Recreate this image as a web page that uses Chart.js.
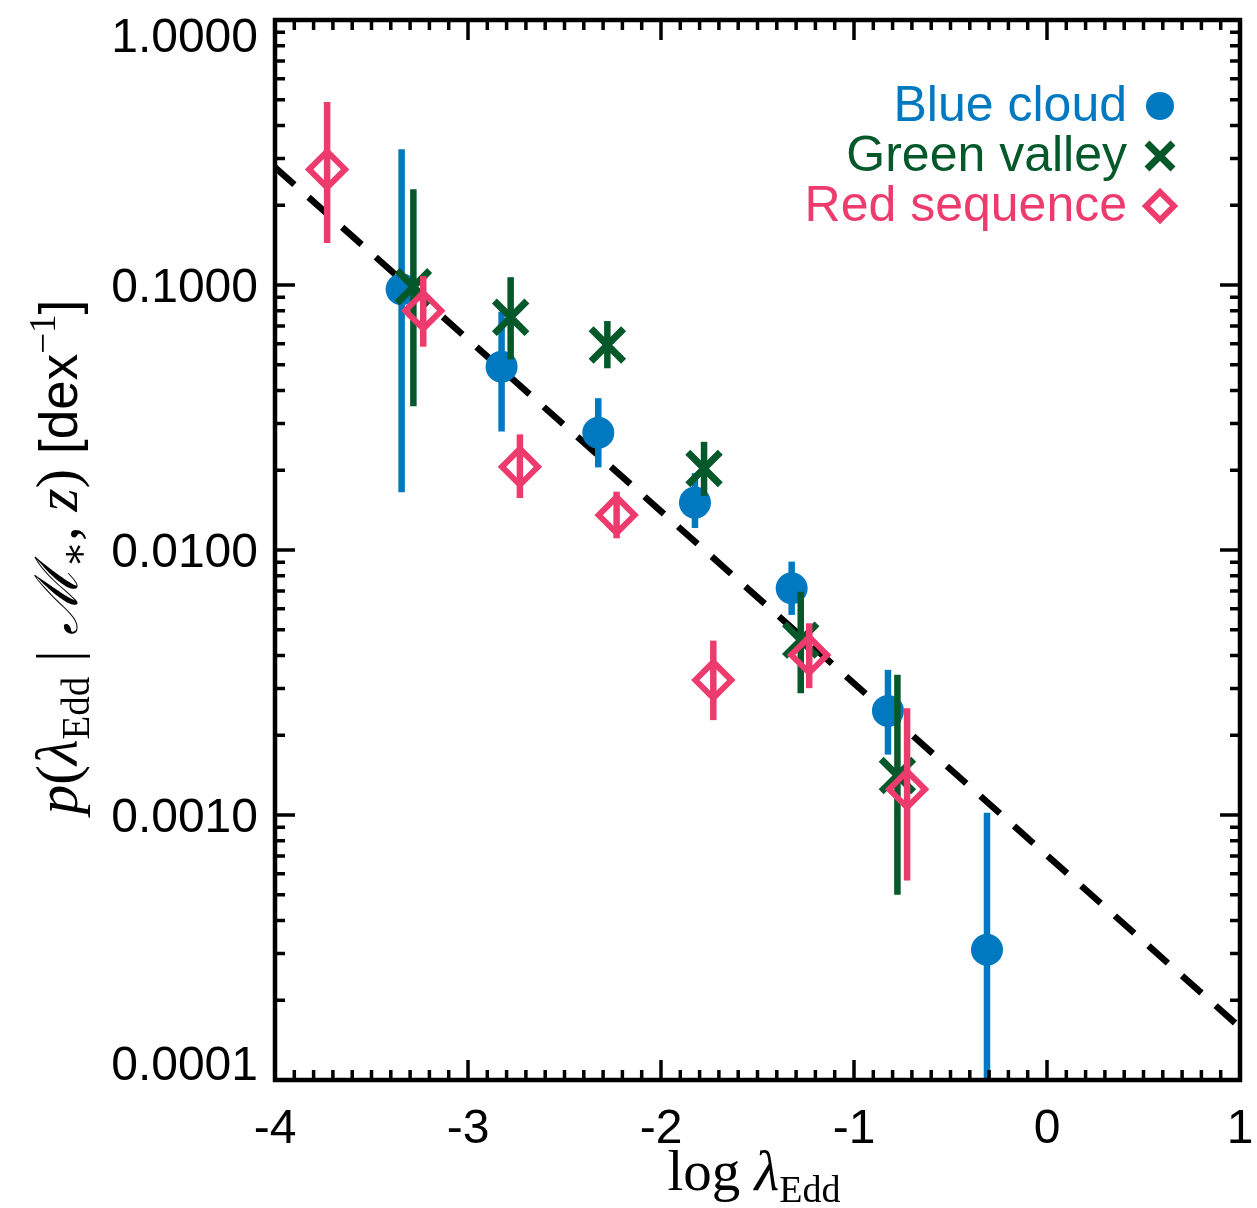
<!DOCTYPE html>
<html>
<head>
<meta charset="utf-8">
<script src="https://cdn.jsdelivr.net/npm/chart.js@4.4.1/dist/chart.umd.min.js"></script>
<style>
  html, body { margin: 0; padding: 0; background: #ffffff; }
  #wrap { width: 1257px; height: 1208px; }
</style>
</head>
<body>
<div id="wrap"><canvas id="c" width="1257" height="1208"></canvas></div>
<script>
// Axis ticks
const xTickValues = [-4, -3, -2, -1, 0, 1];
const xTickLabels = ['-4', '-3', '-2', '-1', '0', '1'];
const yTickValues = [1, 0.1, 0.01, 0.001, 0.0001];
const yTickLabels = ['1.0000', '0.1000', '0.0100', '0.0010', '0.0001'];

// Blue cloud
const blueX  = [-3.344, -2.826, -2.325, -1.824, -1.323, -0.824, -0.311];
const blueY  = [0.0964, 0.0492, 0.0277, 0.0151, 0.00717, 0.00247, 0.00031];
const blueHi = [0.325, 0.0793, 0.0374, 0.0195, 0.00904, 0.00353, 0.00102];
const blueLo = [0.0165, 0.0280, 0.0205, 0.0121, 0.00569, 0.00169, 0.00005];

// Green valley
const greenX  = [-3.283, -2.779, -2.278, -1.777, -1.276, -0.775];
const greenY  = [0.0985, 0.0755, 0.0594, 0.0203, 0.00457, 0.00141];
const greenHi = [0.23, 0.107, 0.0731, 0.0256, 0.00696, 0.00338];
const greenLo = [0.0349, 0.0524, 0.0485, 0.0160, 0.00288, 0.00050];

// Red sequence
const redX  = [-3.73, -3.232, -2.731, -2.230, -1.729, -1.232, -0.725];
const redY  = [0.273, 0.080, 0.0206, 0.01355, 0.00323, 0.00402, 0.00125];
const redHi = [0.49, 0.108, 0.0273, 0.0166, 0.00455, 0.00529, 0.00253];
const redLo = [0.144, 0.0585, 0.0157, 0.01107, 0.00228, 0.00301, 0.000566];

// Power-law relation (dashed)
const fitX = [-4, 1];
const fitY = [0.278, 0.000158];

const BLUE = '#0079c1';
const GREEN = '#04582a';
const RED = '#ee3b6d';
const SANS = '"Liberation Sans", Arial, Helvetica, sans-serif';
const SERIF = '"Liberation Serif", "DejaVu Serif", serif';

const pts = (xs, ys) => xs.map((x, i) => ({ x: x, y: ys[i] }));

// Vertical error bars, drawn under each dataset's markers
const errorBars = {
  id: 'errorBars',
  beforeDatasetDraw(chart, args) {
    const ds = chart.data.datasets[args.index];
    if (!ds.errLo) return;
    const { ctx, chartArea: a, scales } = chart;
    ctx.save();
    ctx.beginPath();
    ctx.rect(a.left, a.top, a.right - a.left, a.bottom - a.top);
    ctx.clip();
    ctx.strokeStyle = ds.errColor;
    ctx.lineWidth = 6.5;
    ctx.lineCap = 'butt';
    ds.data.forEach((p, i) => {
      const px = scales.x.getPixelForValue(p.x);
      const y1 = scales.y.getPixelForValue(ds.errHi[i]);
      const y2 = scales.y.getPixelForValue(ds.errLo[i]);
      ctx.beginPath();
      ctx.moveTo(px, y1);
      ctx.lineTo(px, y2);
      ctx.stroke();
    });
    ctx.restore();
  }
};

function drawRuns(ctx, runs, x0, y0) {
  let x = x0;
  runs.forEach(r => {
    ctx.font = r.font;
    ctx.fillText(r.t, x, y0 + (r.dy || 0));
    x += ctx.measureText(r.t).width + (r.kern || 0);
  });
}
function runsWidth(ctx, runs) {
  let w = 0;
  runs.forEach(r => { ctx.font = r.font; w += ctx.measureText(r.t).width + (r.kern || 0); });
  return w;
}

function drawMarker(ctx, style, color, x, y) {
  ctx.save();
  if (style === 'circle') {
    ctx.fillStyle = color;
    ctx.beginPath();
    ctx.arc(x, y, 14, 0, Math.PI * 2);
    ctx.fill();
  } else if (style === 'crossRot') {
    const r = 13;
    ctx.strokeStyle = color;
    ctx.lineWidth = 7;
    ctx.beginPath();
    ctx.moveTo(x - r, y - r); ctx.lineTo(x + r, y + r);
    ctx.moveTo(x - r, y + r); ctx.lineTo(x + r, y - r);
    ctx.stroke();
  } else {
    const r = 14;
    ctx.strokeStyle = color;
    ctx.lineWidth = 6;
    ctx.beginPath();
    ctx.moveTo(x - r, y); ctx.lineTo(x, y - r); ctx.lineTo(x + r, y); ctx.lineTo(x, y + r);
    ctx.closePath();
    ctx.stroke();
  }
  ctx.restore();
}

// Frame with inward ticks on all sides, tick labels, titles and legend
const decorations = {
  id: 'decorations',
  afterDraw(chart) {
    const { ctx, chartArea: a, scales } = chart;
    const xs = scales.x, ys = scales.y;
    ctx.save();
    ctx.strokeStyle = '#000';
    ctx.lineCap = 'butt';

    // ticks
    ctx.lineWidth = 3.5;
    const xMinor = [];
    for (let k = -40; k <= 10; k++) xMinor.push(k / 10);
    xMinor.forEach(v => {
      const major = Math.abs(v - Math.round(v)) < 1e-9;
      const len = major ? 20 : 10;
      const px = xs.getPixelForValue(v);
      ctx.beginPath();
      ctx.moveTo(px, a.bottom); ctx.lineTo(px, a.bottom - len);
      ctx.moveTo(px, a.top); ctx.lineTo(px, a.top + len);
      ctx.stroke();
    });
    for (let e = -4; e <= 0; e++) {
      for (let m = 1; m <= 9; m++) {
        const v = m * Math.pow(10, e);
        if (v > 1.0000001) continue;
        const len = m === 1 ? 20 : 10;
        const py = ys.getPixelForValue(v);
        ctx.beginPath();
        ctx.moveTo(a.left, py); ctx.lineTo(a.left + len, py);
        ctx.moveTo(a.right, py); ctx.lineTo(a.right - len, py);
        ctx.stroke();
      }
    }

    // frame
    ctx.lineWidth = 4.5;
    ctx.strokeRect(a.left, a.top, a.right - a.left, a.bottom - a.top);

    // tick labels
    ctx.fillStyle = '#000';
    ctx.font = '48px ' + SANS;
    ctx.textAlign = 'center';
    ctx.textBaseline = 'alphabetic';
    xTickValues.forEach((v, i) => {
      ctx.fillText(xTickLabels[i], xs.getPixelForValue(v), a.bottom + 63);
    });
    ctx.textAlign = 'right';
    yTickValues.forEach((v, i) => {
      const py = ys.getPixelForValue(v);
      const base = Math.min(Math.max(py + 17, a.top + 32), a.bottom);
      ctx.fillText(yTickLabels[i], a.left - 17, base);
    });

    // x title
    ctx.textAlign = 'left';
    const xRuns = [
      { t: 'log ', font: '57px ' + SERIF },
      { t: 'λ', font: 'italic 57px ' + SERIF },
      { t: 'Edd', font: '38px ' + SERIF, dy: 12 }
    ];
    const xw = runsWidth(ctx, xRuns);
    drawRuns(ctx, xRuns, 754 - xw / 2, 1190);

    // y title
    const yRuns = [
      { t: 'p', font: 'italic 59px ' + SERIF },
      { t: '(', font: '59px ' + SERIF },
      { t: 'λ', font: 'italic 59px ' + SERIF },
      { t: 'Edd', font: '39px ' + SERIF, dy: 12 },
      { t: ' | ', font: '59px ' + SERIF },
      { t: 'ℳ', font: 'italic 59px ' + SERIF },
      { t: '∗', font: '39px ' + SERIF, dy: 10 },
      { t: ', ', font: '59px ' + SERIF },
      { t: 'z', font: 'italic 59px ' + SERIF },
      { t: ') ', font: '59px ' + SERIF },
      { t: '[dex', font: '53px ' + SANS },
      { t: '−1', font: '37px ' + SERIF, dy: -22 },
      { t: ']', font: '53px ' + SANS }
    ];
    const yw = runsWidth(ctx, yRuns);
    ctx.save();
    ctx.translate(77, 557);
    ctx.rotate(-Math.PI / 2);
    drawRuns(ctx, yRuns, -yw / 2, 0);
    ctx.restore();

    // legend
    const items = chart.data.datasets.filter(d => d.legendRow !== undefined)
      .sort((p, q) => p.legendRow - q.legendRow);
    ctx.font = '50px ' + SANS;
    ctx.textAlign = 'right';
    items.forEach((d, i) => {
      const base = 121 + i * 50;
      ctx.fillStyle = d.errColor;
      ctx.fillText(d.label, 1127, base);
      drawMarker(ctx, d.pointStyle, d.errColor, 1160, base - 15);
    });
    ctx.restore();
  }
};

new Chart(document.getElementById('c'), {
  type: 'scatter',
  data: {
    datasets: [
      {
        label: 'Red sequence', legendRow: 2, order: 1,
        data: pts(redX, redY), errHi: redHi, errLo: redLo, errColor: RED,
        pointStyle: 'rectRot', pointRadius: 18, pointHoverRadius: 18,
        borderColor: RED, backgroundColor: 'rgba(0,0,0,0)', borderWidth: 6
      },
      {
        label: 'Green valley', legendRow: 1, order: 2,
        data: pts(greenX, greenY), errHi: greenHi, errLo: greenLo, errColor: GREEN,
        pointStyle: 'crossRot', pointRadius: 23, pointHoverRadius: 23,
        borderColor: GREEN, backgroundColor: GREEN, borderWidth: 7
      },
      {
        label: 'Blue cloud', legendRow: 0, order: 3,
        data: pts(blueX, blueY), errHi: blueHi, errLo: blueLo, errColor: BLUE,
        pointStyle: 'circle', pointRadius: 16, pointHoverRadius: 16,
        borderColor: BLUE, backgroundColor: BLUE, borderWidth: 0
      },
      {
        type: 'line', label: 'fit', order: 4,
        data: pts(fitX, fitY), showLine: true,
        borderColor: '#000', borderWidth: 6.5, borderDash: [26, 19],
        pointRadius: 0, fill: false
      }
    ]
  },
  options: {
    responsive: false,
    animation: false,
    devicePixelRatio: 1,
    layout: { autoPadding: false, padding: { top: 20, right: 17, left: 0, bottom: 0 } },
    plugins: { legend: { display: false }, tooltip: { enabled: false } },
    scales: {
      x: {
        type: 'linear', min: -4, max: 1,
        afterBuildTicks: s => { s.ticks = xTickValues.map(v => ({ value: v })); },
        afterFit: s => { s.height = 128; },
        ticks: { display: false },
        grid: { display: false, drawTicks: false },
        border: { display: false }
      },
      y: {
        type: 'logarithmic', min: 0.0001, max: 1,
        afterBuildTicks: s => { s.ticks = yTickValues.map(v => ({ value: v })); },
        afterFit: s => { s.width = 275; },
        ticks: { display: false },
        grid: { display: false, drawTicks: false },
        border: { display: false }
      }
    }
  },
  plugins: [errorBars, decorations]
});
</script>
</body>
</html>
